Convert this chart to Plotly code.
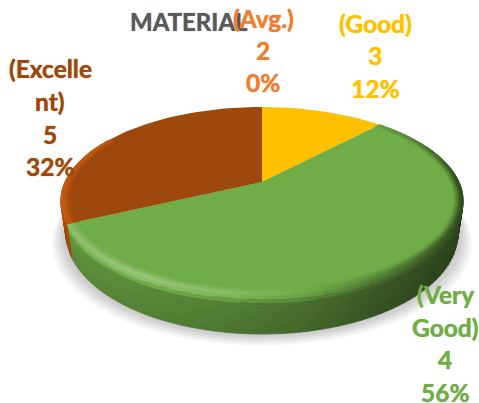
import numpy as np
import plotly.graph_objects as go

# ---- data ----
title = "MATERIAL"
categories = ["(Good)", "(Very Good)", "(Excellent)", "(Avg.)"]
keys = [3, 4, 5, 2]
percents = [12, 56, 32, 0]

label_lines = {
    "(Avg.)": ["(Avg.)", "2", "0%"],
    "(Good)": ["(Good)", "3", "12%"],
    "(Very Good)": ["(Very", "Good)", "4", "56%"],
    "(Excellent)": ["(Excelle", "nt)", "5", "32%"],
}
label_pos = {  # x centre, y of each line in px
    "(Avg.)": (263, [18, 50, 82]),
    "(Good)": (375, [23, 55, 88]),
    "(Very Good)": (445, [294, 327, 359, 392]),
    "(Excellent)": (50, [68, 101, 134, 166]),
}
top_colors = {"(Good)": "#ffc000", "(Very Good)": "#70ad47", "(Excellent)": "#9e480e", "(Avg.)": "#ed7d31"}
text_colors = {"(Good)": "#ffc000", "(Very Good)": "#70ad47", "(Excellent)": "#9e480e", "(Avg.)": "#ed7d31"}
wall_colors = {"(Good)": "#ffc000", "(Very Good)": "#70ad47", "(Excellent)": "#c55a11", "(Avg.)": "#ed7d31"}

W, H = 479, 403
CX, CY, A, B, K = 262.0, 182.0, 90.2, 197.0, 0.202


def proj(theta_deg, r=1.0):
    th = np.radians(theta_deg)
    u, v = r * np.sin(th), r * np.cos(th)
    w = 1 + K * v
    return CX + B * u / w, CY - A * v / w


def proj_low(theta_deg, t):
    x, y = proj(theta_deg)
    v = np.cos(np.radians(theta_deg))
    h = 30 - 9 * v
    return CX + (x - CX) * (1 - 0.025 * t), y + h * t


def rgb(hexc):
    return np.array([int(hexc[i:i + 2], 16) for i in (1, 3, 5)], float)


def tone(hexc, m):
    c = rgb(hexc)
    c = c * m if m <= 1 else c + (255 - c) * (m - 1)
    c = np.clip(np.round(c / 3) * 3, 0, 255)
    return "rgb(%d,%d,%d)" % tuple(c)


ANG = [0, 43, 70, 90, 110, 130, 150, 170, 190, 210, 245, 300, 360]
WALL = [1, .72, .47, .40, .40, .42, .50, .64, .74, .80, .86, .95, 1]
RIM = [1, .90, .60, .42, .42, .50, .72, 1.0, 1.2, 1.3, 1.2, 1.0, 1]

fig = go.Figure()


def poly(xs, ys, color, opacity=1.0, width=0.0):
    fig.add_trace(go.Scatter(
        x=xs, y=ys, mode="lines", fill="toself", fillcolor=color, opacity=opacity,
        line=dict(color=color, width=width),
        hoverinfo="skip", showlegend=False))


def flush(groups):
    for color, (xs, ys) in groups.items():
        poly(xs, ys, color, width=0.7)
    groups.clear()


def add_quad(groups, color, p):
    xs, ys = groups.setdefault(color, ([], []))
    xs += [q[0] for q in p] + [p[0][0], None]
    ys += [q[1] for q in p] + [p[0][1], None]


# soft shadow under the pie
dense = np.arange(0, 360.5, 3)
for grow, op in [(14, .14), (11, .2), (8, .26), (5, .3), (2, .35)]:
    xs, ys = zip(*[proj_low(a, 1) for a in dense])
    xs = CX + (np.array(xs) - CX) * (1 + grow / 200)
    ys = np.array(ys) + grow * 0.8
    poly(list(xs), list(ys), "#b8b8b8", op)

# walls and top faces, built from the percentages
edges = np.cumsum([0] + percents) * 3.6
slices = list(zip(categories, edges[:-1], edges[1:]))

STEP = 2.0
groups = {}
wall_ts = np.linspace(0, 1, 11)
for name, a0, a1 in slices:
    if a1 <= a0:
        continue
    ticks = np.arange(a0, a1, STEP).tolist() + [a1]
    for s, e in zip(ticks[:-1], ticks[1:]):
        mid = (s + e) / 2
        if mid < 43 or mid > 300:
            continue
        wm = float(np.interp(mid, ANG, WALL))
        rm = float(np.interp(mid, ANG, RIM))
        if name == "(Excellent)":
            rm = 1.0
        for t0, t1 in zip(wall_ts[:-1], wall_ts[1:]):
            tm = (t0 + t1) / 2
            m = float(np.interp(tm, [0, .25, 1], [rm, wm, wm * .92]))
            p = [proj_low(s, t0), proj_low(e, t0), proj_low(e, t1), proj_low(s, t1)]
            add_quad(groups, tone(wall_colors[name], m), p)
flush(groups)

for name, a0, a1 in slices:
    if a1 <= a0:
        continue
    arc = np.arange(a0, a1, 1.5).tolist() + [a1]
    pts = [proj(a) for a in arc]
    poly([CX] + [q[0] for q in pts], [CY] + [q[1] for q in pts], top_colors[name])

# bevel ring on the front edge of the top face
ring_rs = np.linspace(.945, 1.0, 9)
for name, a0, a1 in slices:
    if a1 <= a0 or name == "(Good)":
        continue
    ticks = np.arange(a0, a1, STEP).tolist() + [a1]
    for s, e in zip(ticks[:-1], ticks[1:]):
        mid = (s + e) / 2
        if mid > 300:
            continue
        rm = float(np.interp(mid, ANG, RIM))
        for r0, r1 in zip(ring_rs[:-1], ring_rs[1:]):
            f = ((r0 + r1) / 2 - ring_rs[0]) / (ring_rs[-1] - ring_rs[0])
            f = f * f * (3 - 2 * f)
            p = [proj(s, r0), proj(e, r0), proj(e, r1), proj(s, r1)]
            if name == "(Excellent)":
                c0, c1 = rgb(top_colors[name]), rgb(wall_colors[name])
                c = c0 + (c1 - c0) * f
                col = "rgb(%d,%d,%d)" % tuple(np.round(c / 3) * 3)
            else:
                col = tone(top_colors[name], 1 + (rm - 1) * f)
            add_quad(groups, col, p)
flush(groups)

annotations = [dict(x=189, y=21, text="<b>%s</b>" % title, showarrow=False,
                    font=dict(family="Lato", size=24, color="#595959",
                              shadow="0 0 1px #595959"),
                    xanchor="center", yanchor="middle")]
for name, lines in label_lines.items():
    xc, ys = label_pos[name]
    for line, y in zip(lines, ys):
        annotations.append(dict(x=xc, y=y, text="<b>%s</b>" % line, showarrow=False,
                                font=dict(family="Lato", size=24.5, color=text_colors[name],
                                          shadow="0 0 1px " + text_colors[name]),
                                xanchor="center", yanchor="middle"))

fig.update_layout(
    width=W, height=H, margin=dict(l=0, r=0, t=0, b=0),
    paper_bgcolor="white", plot_bgcolor="white", showlegend=False,
    xaxis=dict(range=[0, W], visible=False, fixedrange=True),
    yaxis=dict(range=[H, 0], visible=False, fixedrange=True),
    annotations=annotations,
)
fig.write_html("out.html", config=dict(displayModeBar=False),
               post_script="document.body.style.margin='0';document.body.style.overflow='hidden';")
